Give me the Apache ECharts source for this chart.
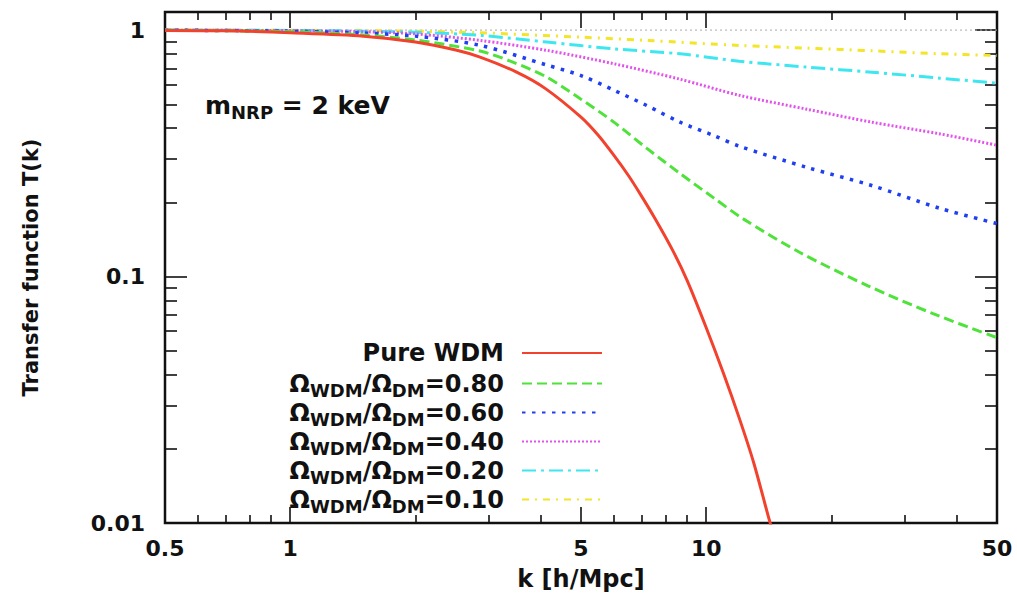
<!DOCTYPE html>
<html><head><meta charset="utf-8">
<script src="https://cdn.jsdelivr.net/npm/echarts@6/dist/echarts.min.js"></script>
<style>html,body{margin:0;padding:0;background:#fff}#c{width:1017px;height:598px}</style>
</head><body><div id="c"></div>
<script>
// ---- data: [k (h/Mpc), T(k)] ----
const pureWDM = [[0.5,0.997],[0.7,0.993],[1,0.975],[1.5,0.945],[2,0.895],[2.5,0.83],[2.86,0.777],[3.5,0.675],[4.1,0.58],[5,0.443],[5.5,0.374],[6,0.31],[6.5,0.257],[6.93,0.217],[7.5,0.174],[8.3,0.128],[9,0.0963],[10,0.062],[11,0.0405],[12,0.0267],[13,0.0176],[14.2,0.0102],[15,0.0075]];
const ratio080 = [[0.5,0.999],[1,0.985],[1.5,0.955],[2,0.911],[2.86,0.822],[3.43,0.741],[4.14,0.644],[5,0.524],[6,0.423],[7.2,0.331],[8.65,0.262],[10.4,0.209],[12.3,0.171],[16.8,0.1252],[24.4,0.0919],[35.1,0.0707],[50,0.0565]];
const ratio060 = [[0.5,0.999],[1,0.99],[1.5,0.972],[2,0.945],[2.86,0.867],[4.14,0.721],[5,0.654],[6,0.57],[7.2,0.494],[8.65,0.423],[10.4,0.374],[12,0.338],[17.5,0.277],[25,0.234],[36.5,0.189],[50,0.164]];
const ratio040 = [[0.5,0.999],[1,0.995],[1.5,0.985],[2,0.965],[2.86,0.908],[4.14,0.827],[6,0.73],[8.65,0.632],[12,0.544],[17.5,0.477],[25,0.423],[36.5,0.379],[50,0.341]];
const ratio020 = [[0.5,1.0],[1,0.997],[1.5,0.99],[2,0.98],[2.86,0.952],[4.14,0.894],[6,0.839],[8.65,0.801],[12,0.748],[17.5,0.707],[25,0.675],[36.5,0.638],[50,0.609]];
const ratio010 = [[0.5,1.0],[1,0.998],[1.5,0.995],[2,0.99],[2.86,0.975],[5,0.936],[7.2,0.908],[12,0.866],[17.5,0.845],[25,0.824],[36.5,0.801],[50,0.789]];
const unityLine = [[0.5,1],[50,1]];

const seriesNames = ['Pure WDM','ΩWDM/ΩDM=0.80','ΩWDM/ΩDM=0.60','ΩWDM/ΩDM=0.40','ΩWDM/ΩDM=0.20','ΩWDM/ΩDM=0.10'];
const xLabelValues = [0.5,1,5,10,50];
const xMajorTicks = [1,5,10];
const xMinorTicks = [0.6,0.7,0.8,0.9,2,3,4,6,7,8,9,20,30,40];
const yLabelValues = [0.01,0.1,1];
const yMajorTicks = [0.01,0.1,1];
const yMinorTicks = [0.02,0.03,0.04,0.05,0.06,0.07,0.08,0.09,0.2,0.3,0.4,0.5,0.6,0.7,0.8,0.9];

const FONT = 'DejaVu Sans';
const INK = '#111';

function nearestLabel(v, list){
  let best = list[0];
  for (const c of list) if (Math.abs(Math.log(c)-Math.log(v)) < Math.abs(Math.log(best)-Math.log(v))) best = c;
  return String(best);
}

function xAxisDef(pos, ticks, len, withLabels){
  return {
    type:'log', logBase:10, min:0.5, max:50, position:pos, gridIndex:0,
    axisLine:{show:false}, splitLine:{show:false}, minorTick:{show:false},
    axisTick:{show:true, inside:true, length:len, customValues:ticks, lineStyle:{color:INK, width:1.6}},
    axisLabel: withLabels ? {show:true, customValues:xLabelValues, formatter:v=>nearestLabel(v,xLabelValues),
      margin:14, color:INK, fontFamily:FONT, fontWeight:'bold', fontSize:22} : {show:false},
    name: withLabels ? 'k [h/Mpc]' : '', nameLocation:'middle', nameGap:44,
    nameTextStyle:{color:INK, fontFamily:FONT, fontWeight:'bold', fontSize:24}
  };
}
function yAxisDef(pos, ticks, len, withLabels){
  return {
    type:'log', logBase:10, min:0.01, max:1.184, position:pos, gridIndex:0,
    axisLine:{show:false}, splitLine:{show:false}, minorTick:{show:false},
    axisTick:{show:true, inside:true, length:len, customValues:ticks, lineStyle:{color:INK, width:1.6}},
    axisLabel: withLabels ? {show:true, customValues:yLabelValues, formatter:v=>nearestLabel(v,yLabelValues),
      margin:20, color:INK, fontFamily:FONT, fontWeight:'bold', fontSize:22} : {show:false},
    name: withLabels ? 'Transfer function T(k)' : '', nameLocation:'middle', nameGap:124, nameRotate:90,
    nameTextStyle:{color:INK, fontFamily:FONT, fontWeight:'bold', fontSize:21}
  };
}

function lineSeries(name, data, color, type, width){
  return {
    name, type:'line', data, xAxisIndex:0, yAxisIndex:0, symbol:'none', smooth:0.3, clip:true,
    lineStyle:{color, width, type, cap:'butt'}, itemStyle:{color}, z:3
  };
}

const richMain = {fontFamily:FONT, fontWeight:'bold', fontSize:24, lineHeight:24, verticalAlign:'top', color:INK};
const richSub = {fontFamily:FONT, fontWeight:'bold', fontSize:18, lineHeight:16, padding:[13,0,0,0], color:INK};
const richPlain = {fontFamily:FONT, fontWeight:'bold', fontSize:24, lineHeight:24, padding:[0,0,5,0], verticalAlign:'top', color:INK};

const chart = echarts.init(document.getElementById('c'), null, {renderer:'svg'});
chart.setOption({
  animation:false,
  backgroundColor:'#fff',
  grid:{left:165, right:20, top:12, bottom:75, show:true, borderColor:INK, borderWidth:2.5, backgroundColor:'transparent'},
  title:{
    text:'{a|m}{s|NRP}{a| = 2 keV}', left:205, top:93, padding:0,
    textStyle:{rich:{
      a:{fontFamily:FONT, fontWeight:'bold', fontSize:25, lineHeight:25, verticalAlign:'top', color:INK},
      s:{fontFamily:FONT, fontWeight:'bold', fontSize:18, lineHeight:18, padding:[14,0,0,0], color:INK}
    }}
  },
  legend:{
    data:seriesNames, orient:'vertical', align:'right', right:414, top:341, padding:0,
    itemWidth:80, itemHeight:14, itemGap:-2, selectedMode:false,
    itemStyle:{opacity:0},
    formatter:function(name){
      if (name === 'Pure WDM') return '{p|Pure WDM}';
      const r = name.split('=')[1];
      return '{a|Ω}{s|WDM}{a|/Ω}{s|DM}{a|=' + r + '}';
    },
    textStyle:{padding:[0,13,0,0], rich:{a:richMain, s:richSub, p:richPlain}}
  },
  xAxis:[
    xAxisDef('bottom', xMajorTicks, 16, true),
    xAxisDef('bottom', xMinorTicks, 8, false),
    xAxisDef('top', xMajorTicks, 16, false),
    xAxisDef('top', xMinorTicks, 8, false)
  ],
  yAxis:[
    yAxisDef('left', yMajorTicks, 22, true),
    yAxisDef('left', yMinorTicks, 12, false),
    yAxisDef('right', yMajorTicks, 22, false),
    yAxisDef('right', yMinorTicks, 12, false)
  ],
  series:[
    {name:'unity', type:'line', data:unityLine, symbol:'none', silent:true, z:1,
     lineStyle:{color:'#aaaaaa', width:1, type:[2,3]}},
    lineSeries(seriesNames[5], ratio010, '#f2e52a', [7,6,2,6], 3),
    lineSeries(seriesNames[4], ratio020, '#3ee6f0', [14,5,3,5], 3),
    lineSeries(seriesNames[3], ratio040, '#e253ec', [2,2], 3),
    lineSeries(seriesNames[2], ratio060, '#1f3ff0', [3.5,6.5], 3.5),
    lineSeries(seriesNames[1], ratio080, '#4ee23a', [10,5], 3),
    lineSeries(seriesNames[0], pureWDM, '#f2422e', 'solid', 3)
  ]
});
</script>
</body></html>
